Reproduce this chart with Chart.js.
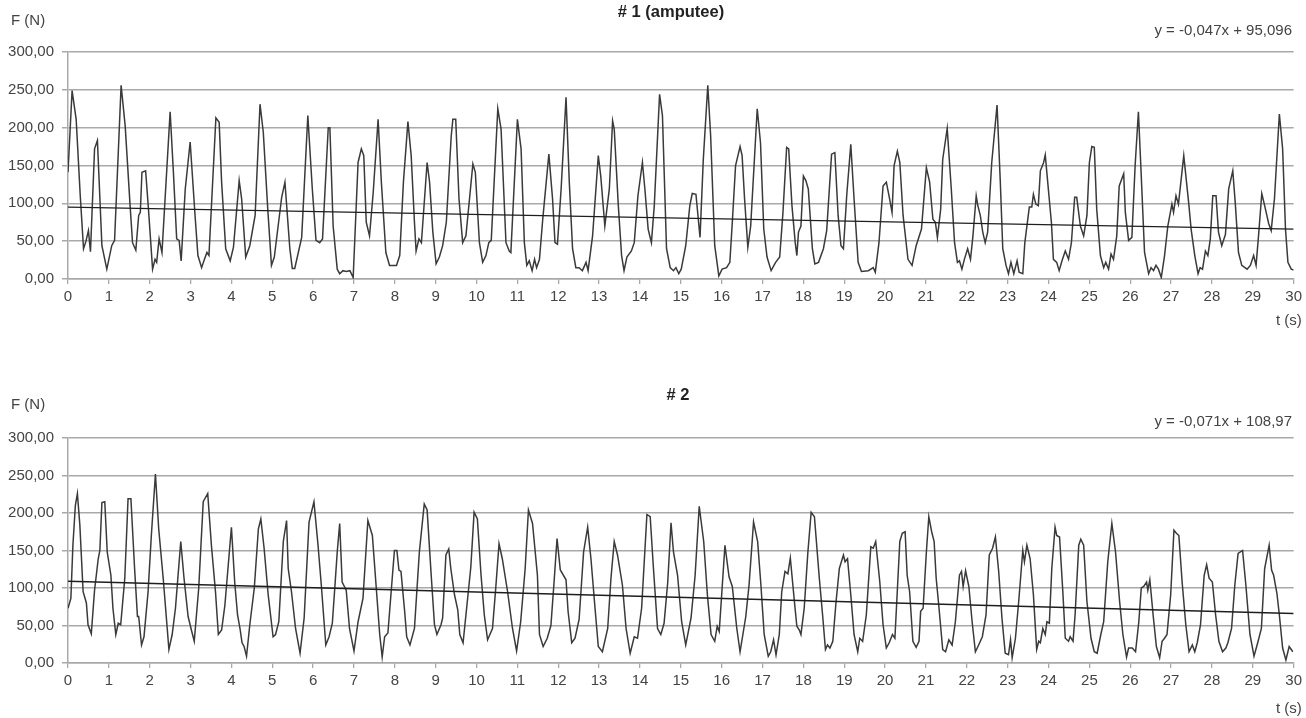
<!DOCTYPE html>
<html>
<head>
<meta charset="utf-8">
<script src="https://cdn.jsdelivr.net/npm/chart.js@4.4.1/dist/chart.umd.min.js"></script>
<style>
  body { margin: 0; background: #fff; }
  #wrap { position: relative; width: 1306px; height: 718px; font-family: 'Liberation Sans', Arial, sans-serif; color: #444; }
  .box { position: absolute; left: 0; width: 1306px; }
  .txt { position: absolute; font-size: 15px; line-height: 17px; white-space: nowrap; }
  .ttl { font-weight: bold; font-size: 16.5px; color: #222; transform: translateX(-50%); }
</style>
</head>
<body>
<div id="wrap">
  <div class="box" style="top:0;height:330px"><canvas id="chart1"></canvas></div>
  <div class="box" style="top:360px;height:358px"><canvas id="chart2"></canvas></div>

  <div class="txt" style="left:11px;top:11px">F (N)</div>
  <div class="txt ttl" style="left:671px;top:3px"># 1 (amputee)</div>
  <div class="txt" style="right:14px;top:21px">y = -0,047x + 95,096</div>
  <div class="txt" style="left:1276px;top:311px">t (s)</div>

  <div class="txt" style="left:11px;top:395px">F (N)</div>
  <div class="txt ttl" style="left:678px;top:386px"># 2</div>
  <div class="txt" style="right:14px;top:412px">y = -0,071x + 108,97</div>
  <div class="txt" style="left:1276px;top:699px">t (s)</div>
</div>
<script>
// subject #1 (amputee), time in s, force in N
const t1 = [0, 0.1, 0.2, 0.3, 0.38, 0.44, 0.5, 0.55, 0.65, 0.72, 0.83, 0.95, 1.07, 1.14, 1.3, 1.4, 1.52, 1.58, 1.66, 1.73, 1.77, 1.81, 1.9, 1.97,
  2.07, 2.13, 2.17, 2.23, 2.3, 2.5, 2.58, 2.66, 2.72, 2.77, 2.87, 2.99, 3.11, 3.18, 3.27, 3.34, 3.4, 3.45, 3.62, 3.7, 3.76, 3.86, 3.97,
  4.05, 4.19, 4.25, 4.35, 4.45, 4.58, 4.7, 4.78, 4.89, 4.98, 5.05, 5.23, 5.31, 5.43, 5.49, 5.55, 5.72, 5.87, 5.98,
  6.07, 6.16, 6.23, 6.37, 6.41, 6.49, 6.59, 6.65, 6.73, 6.81, 6.9, 6.98, 7.1, 7.18, 7.24, 7.3, 7.38, 7.47, 7.59, 7.67, 7.78, 7.87,
  8.04, 8.12, 8.21, 8.32, 8.4, 8.48, 8.52, 8.59, 8.65, 8.79, 8.85, 8.93, 9.01, 9.09, 9.17, 9.26, 9.38, 9.42, 9.49, 9.57, 9.66, 9.74, 9.91, 9.97,
  10.07, 10.15, 10.23, 10.3, 10.36, 10.52, 10.6, 10.72, 10.8, 10.84, 11.0, 11.09, 11.17, 11.23, 11.29, 11.36, 11.42, 11.47, 11.54, 11.62, 11.77, 11.86, 11.92, 11.98,
  12.07, 12.19, 12.27, 12.35, 12.43, 12.51, 12.59, 12.68, 12.73, 12.84, 12.98, 13.04, 13.14, 13.25, 13.33, 13.37, 13.47, 13.55, 13.61, 13.68, 13.79, 13.86, 13.95,
  14.06, 14.12, 14.2, 14.28, 14.35, 14.48, 14.55, 14.65, 14.74, 14.82, 14.88, 14.95, 15.01, 15.12, 15.22, 15.28, 15.37, 15.47, 15.55, 15.66, 15.73, 15.83, 15.93,
  16.01, 16.12, 16.2, 16.26, 16.34, 16.45, 16.5, 16.56, 16.64, 16.71, 16.87, 16.95, 17.03, 17.11, 17.21, 17.32, 17.42, 17.5, 17.59, 17.64, 17.72, 17.8, 17.84, 17.88, 17.94,
  18.0, 18.06, 18.12, 18.22, 18.28, 18.37, 18.49, 18.57, 18.69, 18.77, 18.85, 18.92, 18.98, 19.06, 19.16, 19.24, 19.34, 19.42, 19.59, 19.71, 19.76, 19.85, 19.95,
  20.03, 20.11, 20.17, 20.22, 20.3, 20.36, 20.44, 20.56, 20.66, 20.76, 20.89, 21.01, 21.09, 21.17, 21.23, 21.28, 21.36, 21.41, 21.52, 21.62, 21.7, 21.77, 21.82, 21.88, 21.94,
  22.02, 22.09, 22.15, 22.23, 22.27, 22.33, 22.39, 22.45, 22.51, 22.61, 22.74, 22.82, 22.88, 22.96, 23.02, 23.08, 23.15, 23.23, 23.28, 23.37, 23.42, 23.53, 23.59, 23.63, 23.69, 23.75, 23.8, 23.88, 23.92, 23.98,
  24.07, 24.12, 24.2, 24.26, 24.33, 24.41, 24.49, 24.56, 24.64, 24.69, 24.78, 24.86, 24.94, 25.0, 25.06, 25.12, 25.18, 25.27, 25.35, 25.4, 25.47, 25.53, 25.59, 25.67, 25.73, 25.84, 25.88, 25.96,
  26.04, 26.12, 26.2, 26.27, 26.35, 26.45, 26.51, 26.57, 26.63, 26.69, 26.76, 26.84, 26.92, 27.02, 27.06, 27.12, 27.18, 27.31, 27.43, 27.49, 27.58, 27.66, 27.71, 27.77, 27.84, 27.9, 27.96,
  28.02, 28.1, 28.16, 28.24, 28.33, 28.41, 28.51, 28.57, 28.65, 28.73, 28.86, 28.94, 29.02, 29.08, 29.14, 29.22, 29.29, 29.39, 29.45, 29.53, 29.65, 29.73, 29.8, 29.86, 29.94, 30.0];
const f1 = [141, 249, 211, 110, 40, 50, 64, 36, 172, 183, 44, 13, 44, 51, 256, 202, 97, 48, 38, 84, 88, 141, 143, 92,
  13, 26, 22, 53, 35, 221, 141, 53, 51, 24, 119, 181, 84, 31, 15, 26, 35, 31, 213, 207, 128, 40, 24,
  42, 130, 106, 29, 44, 84, 231, 194, 92, 18, 29, 108, 128, 40, 14, 14, 55, 216, 119,
  51, 48, 53, 200, 200, 70, 13, 7, 11, 10, 11, 2, 154, 172, 163, 75, 57, 114, 211, 128, 35, 18,
  18, 31, 128, 208, 163, 75, 37, 53, 48, 154, 128, 62, 20, 29, 44, 75, 189, 211, 211, 106, 48, 57, 152, 141,
  48, 22, 31, 48, 51, 225, 198, 48, 37, 35, 211, 172, 48, 18, 24, 11, 26, 15, 26, 79, 165, 106, 48, 46,
  119, 240, 128, 40, 15, 15, 11, 22, 11, 57, 163, 136, 70, 119, 209, 198, 97, 31, 11, 29, 37, 48, 110,
  154, 119, 66, 48, 97, 244, 216, 40, 15, 11, 15, 7, 13, 44, 97, 113, 112, 55, 158, 256, 189, 44, 4,
  13, 15, 22, 75, 150, 175, 163, 106, 42, 70, 225, 180, 66, 29, 11, 22, 29, 88, 174, 172, 97, 48, 31, 62, 70,
  136, 130, 119, 40, 20, 22, 40, 64, 165, 167, 84, 44, 40, 110, 178, 106, 22, 10, 11, 15, 9, 48, 123,
  128, 106, 88, 150, 169, 154, 84, 26, 18, 44, 66, 147, 128, 79, 75, 55, 92, 158, 199, 119, 48, 22, 24, 13, 26,
  40, 26, 57, 110, 97, 84, 62, 48, 62, 154, 230, 128, 40, 18, 7, 22, 7, 24, 9, 7, 48, 95, 95, 112, 99, 97, 143, 154, 164, 128,
  75, 26, 22, 11, 24, 37, 26, 48, 108, 108, 70, 57, 84, 154, 175, 174, 92, 31, 15, 22, 13, 33, 26, 57, 123, 139, 88, 51,
  55, 150, 221, 136, 35, 7, 15, 11, 18, 13, 2, 31, 70, 99, 88, 110, 99, 163, 101, 66, 31, 7, 15, 13, 37, 31, 53,
  110, 110, 62, 44, 59, 119, 143, 101, 35, 18, 13, 18, 31, 18, 57, 113, 97, 73, 64, 106, 218, 172, 66, 22, 13, 12];

// subject #2
const t2 = [0, 0.07, 0.12, 0.18, 0.23, 0.29, 0.37, 0.45, 0.49, 0.57, 0.65, 0.74, 0.78, 0.83, 0.9, 0.96, 1.05, 1.1, 1.17, 1.23, 1.29, 1.39, 1.47, 1.54, 1.63, 1.7, 1.73, 1.8, 1.86, 1.96,
  2.04, 2.14, 2.22, 2.33, 2.47, 2.55, 2.63, 2.76, 2.84, 2.94, 3.02, 3.09, 3.2, 3.31, 3.42, 3.51, 3.61, 3.68, 3.76, 3.84,
  4.0, 4.08, 4.15, 4.21, 4.26, 4.31, 4.37, 4.45, 4.56, 4.66, 4.72, 4.8, 4.9, 5.02, 5.08, 5.16, 5.27, 5.35, 5.39, 5.47, 5.57, 5.68, 5.78, 5.9,
  6.02, 6.12, 6.2, 6.31, 6.39, 6.47, 6.53, 6.59, 6.65, 6.71, 6.81, 6.89, 7.0, 7.1, 7.22, 7.34, 7.45, 7.54, 7.63, 7.69, 7.75, 7.83, 7.91, 7.99,
  8.05, 8.1, 8.15, 8.24, 8.29, 8.37, 8.48, 8.6, 8.72, 8.79, 8.89, 8.97, 9.03, 9.13, 9.17, 9.25, 9.32, 9.37, 9.46, 9.54, 9.59, 9.67, 9.74, 9.86, 9.94,
  10.02, 10.11, 10.19, 10.27, 10.39, 10.47, 10.55, 10.63, 10.76, 10.88, 10.98, 11.08, 11.19, 11.27, 11.37, 11.49, 11.54, 11.63, 11.73, 11.82, 11.9, 11.97,
  12.05, 12.19, 12.24, 12.33, 12.41, 12.51, 12.62, 12.72, 12.8, 12.9, 12.98, 13.08, 13.21, 13.29, 13.37, 13.45, 13.57, 13.66, 13.76, 13.86, 13.94,
  14.04, 14.17, 14.25, 14.33, 14.43, 14.51, 14.59, 14.68, 14.76, 14.82, 14.92, 15.02, 15.12, 15.25, 15.35, 15.45, 15.56, 15.65, 15.74, 15.83, 15.89, 15.94,
  16.0, 16.08, 16.18, 16.26, 16.37, 16.45, 16.59, 16.67, 16.78, 16.88, 16.96, 17.04, 17.14, 17.2, 17.27, 17.33, 17.41, 17.47, 17.55, 17.62, 17.68, 17.78, 17.84, 17.9, 17.94,
  18.02, 18.11, 18.19, 18.27, 18.39, 18.47, 18.54, 18.59, 18.65, 18.72, 18.8, 18.88, 18.98, 19.02, 19.08, 19.16, 19.24, 19.33, 19.38, 19.45, 19.54, 19.65, 19.71, 19.77, 19.87, 19.95,
  20.03, 20.1, 20.18, 20.24, 20.36, 20.42, 20.49, 20.54, 20.6, 20.68, 20.76, 20.83, 20.87, 20.93, 21.01, 21.07, 21.14, 21.2, 21.25, 21.32, 21.41, 21.48, 21.56, 21.64, 21.72, 21.82, 21.87, 21.91, 21.97,
  22.05, 22.13, 22.21, 22.29, 22.38, 22.47, 22.55, 22.63, 22.7, 22.78, 22.86, 22.94, 23.02, 23.07, 23.11, 23.19, 23.27, 23.37, 23.41, 23.47, 23.55, 23.63, 23.71, 23.76, 23.8, 23.86, 23.92, 23.96,
  24.02, 24.08, 24.16, 24.2, 24.27, 24.35, 24.41, 24.49, 24.53, 24.6, 24.65, 24.74, 24.79, 24.86, 24.94, 25.04, 25.12, 25.19, 25.28, 25.35, 25.45, 25.55, 25.64, 25.74, 25.82, 25.91, 25.96,
  26.05, 26.13, 26.21, 26.27, 26.33, 26.4, 26.43, 26.48, 26.56, 26.64, 26.72, 26.78, 26.84, 26.9, 26.99, 27.07, 27.13, 27.19, 27.27, 27.36, 27.44, 27.52, 27.58, 27.64, 27.72, 27.81, 27.87, 27.93,
  28.01, 28.09, 28.17, 28.26, 28.34, 28.39, 28.48, 28.56, 28.64, 28.75, 28.83, 28.93, 29.03, 29.13, 29.21, 29.29, 29.4, 29.46, 29.51, 29.59, 29.65, 29.73, 29.81, 29.89, 29.98];
const f2 = [73, 86, 157, 210, 226, 184, 95, 80, 51, 39, 97, 139, 150, 214, 215, 148, 117, 73, 38, 53, 51, 113, 219, 219, 126, 62, 62, 24, 35, 95,
  170, 252, 179, 113, 18, 38, 73, 162, 113, 62, 44, 29, 100, 215, 226, 157, 95, 38, 44, 77,
  181, 108, 64, 46, 27, 22, 9, 51, 100, 179, 192, 153, 91, 35, 38, 55, 162, 190, 126, 95, 46, 13, 60, 188,
  215, 157, 104, 24, 35, 53, 100, 148, 186, 108, 97, 46, 16, 55, 86, 190, 170, 104, 38, 8, 35, 40, 95, 150,
  150, 124, 122, 69, 35, 24, 46, 148, 212, 204, 117, 51, 38, 51, 60, 144, 152, 126, 91, 71, 38, 27, 64, 128, 201,
  192, 117, 64, 31, 46, 100, 159, 139, 95, 46, 16, 55, 126, 204, 186, 117, 38, 22, 33, 50, 110, 166,
  124, 111, 69, 27, 33, 58, 148, 181, 139, 73, 22, 15, 46, 113, 162, 144, 104, 46, 13, 35, 33,
  73, 198, 195, 126, 46, 38, 53, 108, 187, 148, 117, 55, 24, 60, 117, 209, 162, 91, 38, 29, 49, 42,
  91, 157, 115, 102, 46, 15, 62, 104, 188, 162, 104, 38, 9, 15, 31, 11, 38, 95, 122, 119, 140, 82, 49, 44, 38,
  73, 148, 201, 195, 113, 64, 18, 24, 20, 29, 82, 126, 144, 135, 139, 91, 38, 15, 33, 29, 64, 155, 153, 162, 108, 51,
  20, 27, 38, 33, 162, 173, 175, 117, 95, 29, 21, 29, 69, 73, 148, 195, 175, 162, 113, 73, 18, 15, 31, 24, 55, 117, 122, 102, 123,
  102, 55, 15, 24, 35, 64, 144, 153, 168, 122, 60, 13, 11, 31, 7, 33, 82, 150, 135, 157, 139, 91, 18, 29, 27, 46, 38, 55,
  53, 126, 181, 170, 168, 95, 33, 29, 35, 29, 64, 157, 165, 157, 82, 33, 15, 13, 38, 55, 135, 186, 148, 82, 38, 8, 20,
  20, 15, 55, 100, 102, 108, 97, 111, 64, 22, 7, 29, 33, 38, 91, 177, 173, 170, 108, 51, 15, 24, 15, 27, 51, 117, 131, 113,
  108, 64, 29, 15, 20, 27, 46, 104, 146, 150, 104, 38, 9, 29, 46, 126, 157, 124, 117, 93, 64, 20, 4, 22, 15];

// linear trend lines, read at t = 0 and t = 30
const trendT = [0, 30];
const trend1 = [95.1, 66];
const trend2 = [109, 66];

const yTicks = [0, 50, 100, 150, 200, 250, 300];

function points(xs, ys) {
  return xs.map((x, i) => ({ x: x, y: ys[i] }));
}

const gridColor = '#a9a9a9';

const makeChart = function (id, t, f, trend, pad) {
  const config = {
    type: 'line',
    data: {
      datasets: [
        {
          data: points(trendT, trend),
          borderColor: '#1e1e1e',
          borderWidth: 1.3,
          pointRadius: 0,
          order: 0,
        },
        {
          data: points(t, f),
          borderColor: '#3a3a3a',
          borderWidth: 1.5,
          pointRadius: 0,
          tension: 0,
          order: 1,
        },
      ]
    },
    options: {
      responsive: true,
      maintainAspectRatio: false,
      animation: false,
      layout: { padding: pad },
      plugins: {
        legend: { display: false },
        tooltip: { enabled: false },
      },
      scales: {
        x: {
          type: 'linear',
          min: 0,
          max: 30,
          afterFit: s => { s.height = 30; },
          border: { display: true, color: gridColor, width: 1.5 },
          grid: { drawOnChartArea: false, drawTicks: true, tickLength: 5, color: gridColor, lineWidth: 1.3 },
          ticks: {
            stepSize: 1,
            autoSkip: false,
            maxRotation: 0,
            padding: 4,
            color: '#444',
            font: { size: 15 },
          },
        },
        y: {
          min: 0,
          max: 300,
          afterFit: s => { s.width = 68; },
          afterBuildTicks: s => { s.ticks = yTicks.map(v => ({ value: v })); },
          border: { display: true, color: gridColor, width: 1.5 },
          grid: { color: gridColor, lineWidth: 1.5, tickLength: 6 },
          ticks: {
            padding: 8,
            color: '#444',
            font: { size: 15 },
            callback: v => v.toFixed(2).replace('.', ','),
          },
        },
      },
    },
  };
  return new Chart(document.getElementById(id), config);
};

Chart.defaults.font.family = "'Liberation Sans', Arial, sans-serif";

makeChart('chart1', t1, f1, trend1, { top: 52, right: 10, left: 0, bottom: 21 });
makeChart('chart2', t2, f2, trend2, { top: 78, right: 10, left: 0, bottom: 25 });
</script>
</body>
</html>
